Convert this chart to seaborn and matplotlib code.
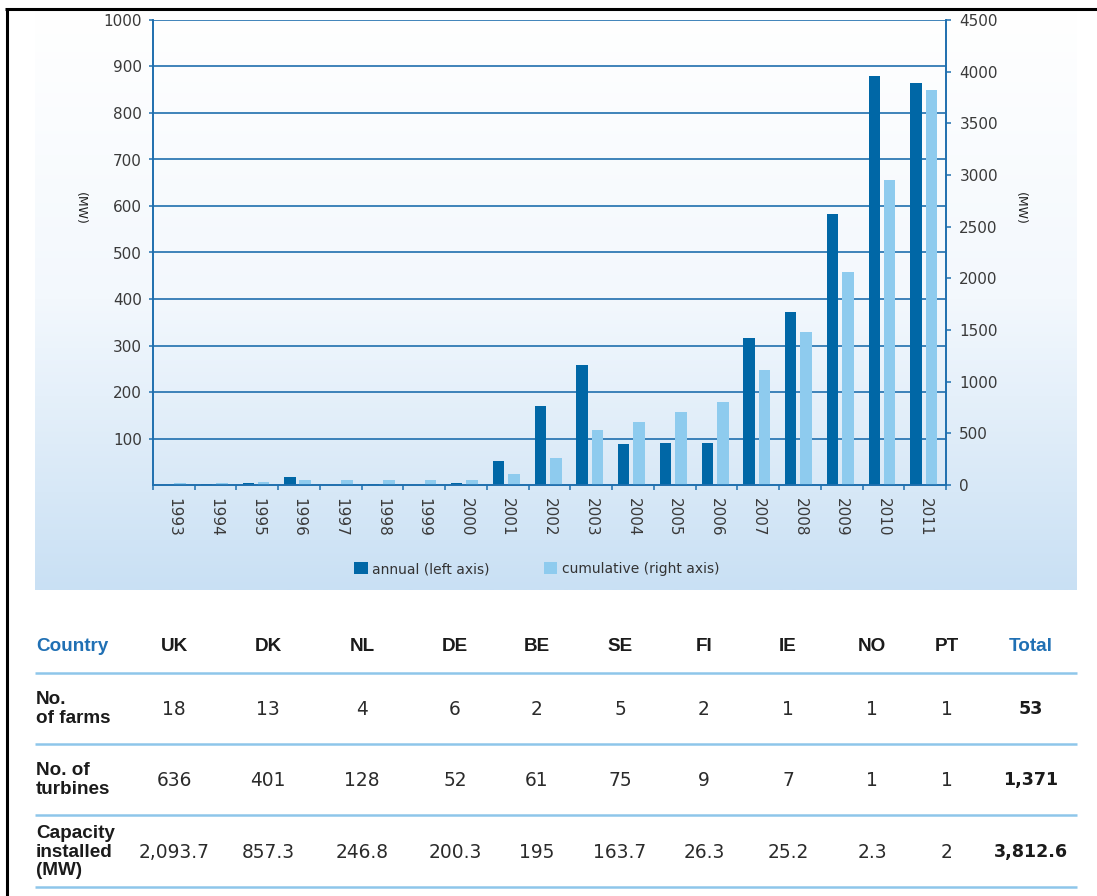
import numpy as np
import pandas as pd
import matplotlib
matplotlib.use("Agg")
import matplotlib.pyplot as plt
from matplotlib.lines import Line2D
from matplotlib.patches import Patch
from matplotlib.colors import LinearSegmentedColormap
import seaborn as sns

# ---- chart data -------------------------------------------------------------
years = ["1993", "1994", "1995", "1996", "1997", "1998", "1999", "2000", "2001", "2002",
         "2003", "2004", "2005", "2006", "2007", "2008", "2009", "2010", "2011"]
annual_mw = [0, 2, 5, 17, 0, 3, 0, 4, 51, 170, 259, 88, 90, 91, 316, 372, 583, 880, 864]
cumulative_mw = [22, 24, 26, 45, 45, 48, 48, 50, 106, 262, 532, 610, 707, 803, 1113,
                 1481, 2062, 2952, 3824]

left_ticks = [100, 200, 300, 400, 500, 600, 700, 800, 900, 1000]
right_ticks = [0, 500, 1000, 1500, 2000, 2500, 3000, 3500, 4000, 4500]

# ---- table data -------------------------------------------------------------
countries = ["UK", "DK", "NL", "DE", "BE", "SE", "FI", "IE", "NO", "PT"]
farms = [18, 13, 4, 6, 2, 5, 2, 1, 1, 1]
turbines = [636, 401, 128, 52, 61, 75, 9, 7, 1, 1]
capacity = [2093.7, 857.3, 246.8, 200.3, 195, 163.7, 26.3, 25.2, 2.3, 2]
total_farms = 53
total_turbines = 1371
total_capacity = 3812.6

# ---- styling ----------------------------------------------------------------
DARK = "#0067a6"
LIGHT = "#8ecbee"
LINE = "#1f6fae"
TABLE_LINE = "#8ec6ea"
HEAD_BLUE = "#2070b4"
TXT = "#3a3a3a"

sns.set_style("white")
plt.rcParams["font.family"] = ["DejaVu Sans"]

W, H = 1097, 896
fig = plt.figure(figsize=(W / 100, H / 100), dpi=100)


def fx(x):
    return x / W


def fy(y):
    return 1 - y / H


# light blue gradient panel behind the chart
panel = fig.add_axes([fx(35), fy(590), (1077 - 35) / W, (590 - 10) / H], zorder=-5)
cmap = LinearSegmentedColormap.from_list("panel", ["#ffffff", "#f3f8fd", "#c9e0f4"])
grad = np.linspace(0, 1, 256).reshape(-1, 1)
panel.imshow(grad, aspect="auto", cmap=cmap, extent=[0, 1, 0, 1], origin="upper")
panel.set_axis_off()

# main axes (annual on left, cumulative on right)
ax = fig.add_axes([fx(153), fy(485), (946 - 153) / W, (485 - 20) / H], zorder=1)
ax.set_facecolor("none")
ax2 = ax.twinx()
ax2.set_facecolor("none")

idx = np.arange(len(years))
sns.barplot(x=idx - 0.22, y=annual_mw, native_scale=True, width=0.27, color=DARK,
            saturation=1, linewidth=0, ax=ax)
sns.barplot(x=idx + 0.15, y=cumulative_mw, native_scale=True, width=0.28, color=LIGHT,
            saturation=1, linewidth=0, ax=ax2)

ax.set_xlim(-0.5, len(years) - 0.5)
ax.set_ylim(0, 1000)
ax2.set_ylim(0, 4500)
ax.set_xlabel("")
ax.set_ylabel("")
ax2.set_ylabel("")

# horizontal grid at left-axis ticks
ax.set_yticks(left_ticks)
ax.yaxis.grid(True, color=LINE, linewidth=1.2)
ax.xaxis.grid(False)
ax.set_axisbelow(True)
ax2.set_yticks(right_ticks)
ax2.grid(False)

# spines
for a in (ax, ax2):
    a.spines["top"].set_visible(False)
    for side in ("left", "right", "bottom"):
        a.spines[side].set_color(LINE)
        a.spines[side].set_linewidth(1.2)

# y ticks
ax.tick_params(axis="y", which="major", direction="out", length=3, width=1.1,
               color=LINE, labelcolor=TXT, labelsize=11, pad=5, left=True)
ax2.tick_params(axis="y", which="major", direction="out", length=3.6, width=1.1,
                color=LINE, labelcolor=TXT, labelsize=11, pad=6, right=True)

# x ticks: marks at category boundaries, labels at category centres
ax.set_xticks(np.arange(-0.5, len(years), 1.0))
ax.set_xticklabels([])
ax.set_xticks(idx, minor=True)
ax.set_xticklabels(years, minor=True, rotation=270, ha="center", va="top")
ax.tick_params(axis="x", which="major", direction="out", length=3.6, width=1.1,
               color=LINE, bottom=True)
ax.tick_params(axis="x", which="minor", length=0, labelsize=11, labelcolor=TXT, pad=9)

# axis unit labels
fig.text(fx(80), fy(208), "(MW)", rotation=270, ha="center", va="center",
         fontsize=9, color="#222222")
fig.text(fx(1020), fy(208), "(MW)", rotation=270, ha="center", va="center",
         fontsize=9, color="#222222")

# legend
handles = [Patch(facecolor=DARK, edgecolor="none", label="annual (left axis)"),
           Patch(facecolor=LIGHT, edgecolor="none", label="cumulative (right axis)")]
fig.legend(handles=handles, loc="center", bbox_to_anchor=(fx(537), fy(569)), ncol=2,
           frameon=False, fontsize=10, handlelength=0.95, handleheight=0.95,
           handletextpad=0.35, columnspacing=3.9, labelcolor="#333333")

# ---- table ------------------------------------------------------------------
col_x = [174, 268, 362, 455, 537, 620, 704, 788, 872, 947]
total_x = 1031
label_x = 36
head_y, farm_y, turb_y, cap_y = 646, 709, 780, 852

LAB = dict(family="Liberation Sans", fontweight="bold", fontsize=13.6, color="#1b1b1b")
VAL = dict(family="DejaVu Sans", fontsize=13.4, color="#2b2b2b")
TOT = dict(family="DejaVu Sans", fontweight="bold", fontsize=12.6, color="#1b1b1b")


def fmt(v):
    s = f"{v:,.1f}"
    return s[:-2] if s.endswith(".0") else s


fig.text(fx(label_x), fy(head_y), "Country", ha="left", va="center",
         **{**LAB, "color": HEAD_BLUE})
for x, c in zip(col_x, countries):
    fig.text(fx(x), fy(head_y), c, ha="center", va="center", **LAB)
fig.text(fx(total_x), fy(head_y), "Total", ha="center", va="center",
         **{**LAB, "color": HEAD_BLUE})

rows = [
    ("No.\nof farms", farm_y, [str(v) for v in farms], f"{total_farms:,}"),
    ("No. of\nturbines", turb_y, [str(v) for v in turbines], f"{total_turbines:,}"),
    ("Capacity\ninstalled\n(MW)", cap_y, [fmt(v) for v in capacity], fmt(total_capacity)),
]
for label, y, vals, tot in rows:
    fig.text(fx(label_x), fy(y), label, ha="left", va="center", linespacing=1.12, **LAB)
    for x, v in zip(col_x, vals):
        fig.text(fx(x), fy(y), v, ha="center", va="center", **VAL)
    fig.text(fx(total_x), fy(y), tot, ha="center", va="center", **TOT)

for y in (673, 744, 815, 887):
    fig.add_artist(Line2D([fx(35), fx(1077)], [fy(y), fy(y)], color=TABLE_LINE,
                          linewidth=1.8, solid_capstyle="butt"))

# page frame lines
fig.add_artist(Line2D([fx(5.2), fx(1097)], [fy(9.5), fy(9.5)], color="black",
                      linewidth=2.2, solid_capstyle="butt"))
fig.add_artist(Line2D([fx(6.7), fx(6.7)], [fy(8.0), fy(896)], color="black",
                      linewidth=2.2, solid_capstyle="butt"))

fig.savefig("out.png", dpi=100)
